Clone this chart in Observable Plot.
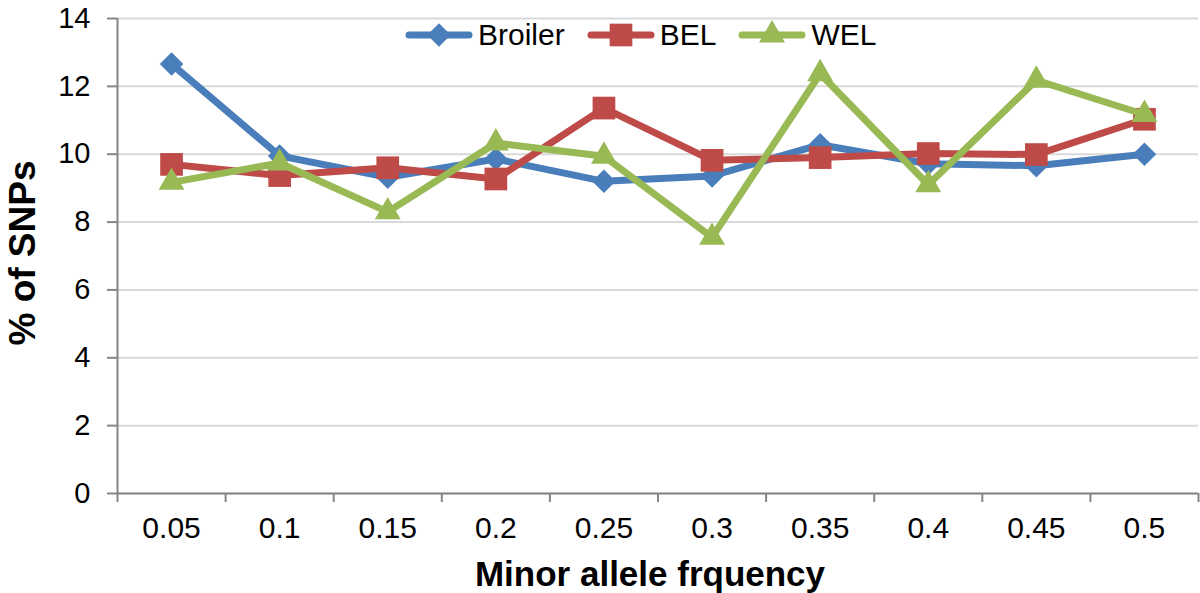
<!DOCTYPE html>
<html>
<head>
<meta charset="utf-8">
<script src="https://cdn.jsdelivr.net/npm/d3@7"></script>
<script src="https://cdn.jsdelivr.net/npm/@observablehq/plot@0.6"></script>
<style>
  html, body { margin: 0; padding: 0; background: #fff; }
  body { font-family: "Liberation Sans", Arial, Helvetica, sans-serif; }
  #wrap { position: relative; width: 1200px; height: 593px; overflow: hidden; }
  #legend { position: absolute; top: 35px; left: 405px; transform: translateY(-50%); display: flex; align-items: center; font-size: 30px; color: #000; white-space: nowrap; }
  #legend .item { display: flex; align-items: center; margin-right: 22px; }
  #legend svg { display: block; margin-right: 5px; }
  #xtitle { position: absolute; left: 650px; top: 573px; transform: translate(-50%, -50%); font-size: 35px; font-weight: bold; white-space: nowrap; line-height: 1; }
  #ytitle { position: absolute; left: 22px; top: 253px; transform: translate(-50%, -50%) rotate(-90deg); font-size: 37px; font-weight: bold; white-space: nowrap; line-height: 1; }
</style>
</head>
<body>
<div id="wrap">
  <div id="chart"></div>
  <div id="legend"></div>
  <div id="xtitle"></div>
  <div id="ytitle"></div>
</div>
<script>
// ---- data ----
const categories = ["0.05", "0.1", "0.15", "0.2", "0.25", "0.3", "0.35", "0.4", "0.45", "0.5"];
const broiler = [12.66, 9.95, 9.32, 9.86, 9.2, 9.36, 10.28, 9.72, 9.66, 10.0];
const bel     = [9.7, 9.37, 9.6, 9.27, 11.36, 9.82, 9.9, 10.02, 9.99, 11.03];
const wel     = [9.17, 9.74, 8.3, 10.33, 9.94, 7.55, 12.37, 9.1, 12.18, 11.17];
const seriesNames = ["Broiler", "BEL", "WEL"];
const yTicks = [0, 2, 4, 6, 8, 10, 12, 14];
const xTitle = "Minor allele frquency";
const yTitle = "% of SNPs";

// ---- styles ----
const colors = ["#4a7ebb", "#be4b48", "#98b954"];
const symbols = ["diamond2", "square", "triangle"];
const symbolR = [10.6, 12.8, 9.6];
const axisColor = "#868686";
const gridColor = "#d9d9d9";

const seriesValues = [broiler, bel, wel];
const series = seriesNames.map((name, s) => ({
  name,
  color: colors[s],
  symbol: symbols[s],
  r: symbolR[s],
  rows: categories.map((c, i) => ({ i: i + 1, cat: c, value: seriesValues[s][i], name }))
}));

const positions = categories.map((c, i) => i + 1);
const boundaries = d3.range(0, categories.length + 1).map(k => k + 0.5);

const marks = [
  Plot.gridY(yTicks, { stroke: gridColor, strokeOpacity: 1, strokeWidth: 2 }),
  Plot.axisY(yTicks, { tickSize: 10, tickPadding: 17, fontSize: 29, stroke: axisColor, strokeWidth: 2, label: null }),
  Plot.axisX(positions, { tickSize: 0, tickPadding: 23, fontSize: 30, tickFormat: d => categories[d - 1], label: null }),
  Plot.axisX(boundaries, { tickSize: 9, tickFormat: () => "", stroke: axisColor, strokeWidth: 2, label: null }),
  Plot.ruleX([0.5], { stroke: axisColor, strokeWidth: 2 }),
  Plot.ruleY([0], { stroke: axisColor, strokeWidth: 2 })
];
for (const s of series) {
  marks.push(Plot.line(s.rows, { x: "i", y: "value", stroke: s.color, strokeWidth: 7, strokeLinejoin: "round", strokeLinecap: "round" }));
  marks.push(Plot.dot(s.rows, { x: "i", y: "value", fill: s.color, stroke: "none", symbol: () => s.symbol, r: s.r }));
}

const chart = Plot.plot({
  width: 1200,
  height: 593,
  marginLeft: 117,
  marginRight: 2,
  marginTop: 18,
  marginBottom: 100,
  style: { fontFamily: '"Liberation Sans", Arial, Helvetica, sans-serif', color: "#000", background: "#fff", overflow: "visible" },
  x: { domain: [0.5, categories.length + 0.5] },
  y: { domain: [0, 14] },
  symbol: { type: "identity" },
  marks
});
document.getElementById("chart").appendChild(chart);

// ---- legend ----
const legend = document.getElementById("legend");
for (const s of series) {
  const item = document.createElement("div");
  item.className = "item";
  const w = 68, h = 30;
  const sym = d3.symbol().type({ diamond2: d3.symbolDiamond2, square: d3.symbolSquare, triangle: d3.symbolTriangle }[s.symbol]).size(Math.PI * s.r * s.r);
  item.innerHTML = `<svg width="${w}" height="${h}"><line x1="4" x2="${w - 4}" y1="${h / 2}" y2="${h / 2}" stroke="${s.color}" stroke-width="7" stroke-linecap="round"/><path transform="translate(${w / 2},${h / 2})" d="${sym()}" fill="${s.color}"/></svg><span>${s.name}</span>`;
  legend.appendChild(item);
}
document.getElementById("xtitle").textContent = xTitle;
document.getElementById("ytitle").textContent = yTitle;
</script>
</body>
</html>
